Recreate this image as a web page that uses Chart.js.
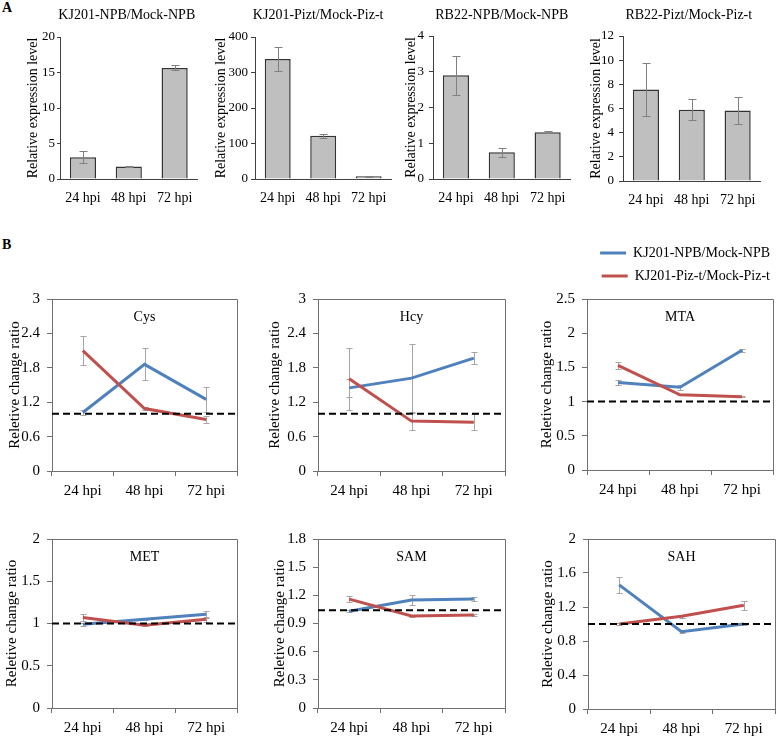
<!DOCTYPE html>
<html>
<head>
<meta charset="utf-8">
<script src="https://cdn.jsdelivr.net/npm/chart.js@4.4.1/dist/chart.umd.min.js"></script>
<style>
  body { margin: 0; background: #fff; }
  #page { position: relative; width: 777px; height: 737px; overflow: hidden; background: #fff; }
  #page canvas { position: absolute; }
  .tag { position: absolute; font: bold 14px "Liberation Serif", serif; color: #000; }
</style>
</head>
<body>
<div id="page">
  <div class="tag" style="left:2px; top:0px">A</div>
  <div class="tag" style="left:2px; top:237px">B</div>
</div>
<script>
const hpi = ['24 hpi', '48 hpi', '72 hpi'];
const seriesNames = ['KJ201-NPB/Mock-NPB', 'KJ201-Piz-t/Mock-Piz-t'];

// A: relative expression (bars) and their error bars
const kjNpbExpr = [3.05, 1.77, 15.65];
const kjNpbErr = [0.85, 0.1, 0.35];
const kjPiztExpr = [338, 122, 7.5];
const kjPiztErr = [34, 6, 1];
const rbNpbExpr = [2.9, 0.75, 1.31];
const rbNpbErr = [0.55, 0.13, 0.02];
const rbPiztExpr = [7.58, 5.89, 5.84];
const rbPiztErr = [2.2, 0.87, 1.13];

// B: relative change ratio, NPB (blue) and Piz-t (red)
const cysNpb = [1.02, 1.86, 1.25];
const cysNpbErr = [0.05, 0.28, 0.22];
const cysPizt = [2.10, 1.09, 0.90];
const cysPiztErr = [0.25, 0.02, 0.06];

const hcyNpb = [1.45, 1.62, 1.97];
const hcyNpbErr = [0.16, 0.59, 0.1];
const hcyPizt = [1.61, 0.87, 0.85];
const hcyPiztErr = [0.54, 0.15, 0.14];

const mtaNpb = [1.28, 1.21, 1.75];
const mtaNpbErr = [0.03, 0.04, 0.02];
const mtaPizt = [1.53, 1.10, 1.07];
const mtaPiztErr = [0.05, 0.01, 0.01];

const metNpb = [0.99, 1.05, 1.11];
const metNpbErr = [0.02, 0.01, 0.04];
const metPizt = [1.07, 0.98, 1.05];
const metPiztErr = [0.04, 0.01, 0.03];

const samNpb = [1.03, 1.15, 1.16];
const samNpbErr = [0.01, 0.05, 0.02];
const samPizt = [1.16, 0.98, 0.99];
const samPiztErr = [0.03, 0.01, 0.01];

const sahNpb = [1.46, 0.91, 1.0];
const sahNpbErr = [0.09, 0.02, 0.01];
const sahPizt = [1.0, 1.09, 1.22];
const sahPiztErr = [0.01, 0.02, 0.05];

// dashed reference level per metabolite
const refLevels = [1, 1, 1, 1, 1.04, 1];

const SERIF = '"Liberation Serif", "Times New Roman", serif';
const blue = '#4f81bd';
const red = '#c0504d';
const axisColor = '#404040';
const frameColor = '#707070';

Chart.defaults.font.family = SERIF;
Chart.defaults.color = '#000';
Chart.defaults.animation = false;
Chart.defaults.responsive = false;

// error bars, drawn from the data values through the y scale
function drawErrors(chart, opts) {
  if (!opts.errors) return;
  const ctx = chart.ctx;
  const y = chart.scales.y;
  ctx.save();
  ctx.strokeStyle = opts.color;
  ctx.lineWidth = 1;
  chart.data.datasets.forEach((ds, i) => {
    const errs = opts.errors[i];
    if (!errs) return;
    chart.getDatasetMeta(i).data.forEach((el, j) => {
      const v = ds.data[j];
      const x = Math.round(el.x) + 0.5;
      const top = Math.round(y.getPixelForValue(v + errs[j])) + 0.5;
      const bot = Math.round(y.getPixelForValue(v - errs[j])) + 0.5;
      ctx.beginPath();
      ctx.moveTo(x, top); ctx.lineTo(x, bot);
      ctx.moveTo(x - opts.cap, top); ctx.lineTo(x + opts.cap, top);
      ctx.moveTo(x - opts.cap, bot); ctx.lineTo(x + opts.cap, bot);
      ctx.stroke();
    });
  });
  ctx.restore();
}

Chart.register({
  id: 'errorBars',
  beforeDatasetsDraw(chart, args, opts) { if (opts.behind) drawErrors(chart, opts); },
  afterDatasetsDraw(chart, args, opts) { if (!opts.behind) drawErrors(chart, opts); }
});

// frame on top/right, dashed reference line, caption text
Chart.register({
  id: 'decor',
  beforeDatasetsDraw(chart, args, opts) {
    if (!opts.frame) return;
    const {ctx, chartArea: a} = chart;
    const top = Math.round(a.top - 0.5) + 0.5;
    const right = Math.round(a.right - 0.5) + 0.5;
    ctx.save();
    ctx.strokeStyle = opts.frame;
    ctx.lineWidth = 1;
    ctx.beginPath();
    ctx.moveTo(a.left, top); ctx.lineTo(right, top); ctx.lineTo(right, a.bottom);
    ctx.stroke();
    ctx.restore();
  },
  afterDatasetsDraw(chart, args, opts) {
    const {ctx, chartArea: a} = chart;
    ctx.save();
    if (opts.refValue !== undefined) {
      const y = chart.scales.y.getPixelForValue(opts.refValue);
      ctx.strokeStyle = '#000';
      ctx.lineWidth = 2;
      ctx.setLineDash([7, 4]);
      ctx.beginPath();
      ctx.moveTo(a.left, y); ctx.lineTo(a.right, y);
      ctx.stroke();
      ctx.setLineDash([]);
    }
    if (opts.caption) {
      ctx.font = opts.captionSize + 'px ' + SERIF;
      ctx.fillStyle = '#000';
      ctx.textAlign = 'center';
      ctx.textBaseline = 'middle';
      ctx.fillText(opts.caption, (a.left + a.right) / 2 + (opts.captionDx || 0), a.top + opts.captionY);
    }
    ctx.restore();
  }
});

const page = document.getElementById('page');

function addCanvas(area, pad) {
  const c = document.createElement('canvas');
  const w = pad.W + area[2] - area[0] + pad.R;
  const h = pad.T + area[3] - area[1] + pad.H;
  c.width = w;
  c.height = h;
  c.style.left = (area[0] - pad.W) + 'px';
  c.style.top = (area[1] - pad.T) + 'px';
  page.appendChild(c);
  return c;
}

// ---- A: bar panels
const barPanels = [
  {title: 'KJ201-NPB/Mock-NPB', values: kjNpbExpr, errors: kjNpbErr, max: 20, step: 5, area: [60, 37, 200, 179], titleX: -27, dx: -2, tick: 3, tickPad: 2},
  {title: 'KJ201-Pizt/Mock-Piz-t', values: kjPiztExpr, errors: kjPiztErr, max: 400, step: 100, area: [255, 37, 394, 179], titleX: -34, dx: -5, tick: 4, tickPad: 3},
  {title: 'RB22-NPB/Mock-NPB', values: rbNpbExpr, errors: rbNpbErr, max: 4, step: 1, area: [433, 36, 573, 179], titleX: -22, dx: 0, tick: 4, tickPad: 5},
  {title: 'RB22-Pizt/Mock-Piz-t', values: rbPiztExpr, errors: rbPiztErr, max: 12, step: 2, area: [623, 36, 763, 181], titleX: -27, dx: -3, tick: 4, tickPad: 5}
];

barPanels.forEach(p => {
  const pad = {W: 60, T: p.area[1], R: 4, H: 30};
  const canvas = addCanvas(p.area, pad);
  new Chart(canvas, {
    type: 'bar',
    data: {
      labels: hpi,
      datasets: [{
        data: p.values,
        backgroundColor: '#bfbfbf',
        borderColor: '#333333',
        borderWidth: 1.5,
        barPercentage: 0.57,
        categoryPercentage: 1
      }]
    },
    options: {
      layout: {padding: {top: pad.T, right: pad.R, left: 0, bottom: 0}},
      plugins: {
        legend: {display: false},
        tooltip: {enabled: false},
        errorBars: {errors: [p.errors], cap: 4, color: '#808080'},
        decor: {caption: p.title, captionY: 15 - pad.T, captionSize: 14, captionDx: p.dx}
      },
      scales: {
        x: {
          grid: {display: false, drawTicks: false},
          border: {color: axisColor},
          ticks: {padding: 11, font: {size: 14}},
          afterFit: s => { s.height = pad.H; }
        },
        y: {
          min: 0,
          max: p.max,
          ticks: {stepSize: p.step, padding: p.tickPad, font: {size: 13}},
          grid: {drawOnChartArea: false, tickLength: p.tick, color: axisColor},
          border: {color: axisColor},
          title: {display: true, text: 'Relative expression level', font: {size: 14},
                  padding: {top: pad.W + p.titleX - 8.4, bottom: 0}},
          afterFit: s => { s.width = pad.W; }
        }
      }
    }
  });
});

// ---- B: line panels
const linePanels = [
  {name: 'Cys', npb: cysNpb, npbErr: cysNpbErr, pizt: cysPizt, piztErr: cysPiztErr, max: 3, step: 0.6, area: [52, 299, 237, 471], titleX: -37},
  {name: 'Hcy', npb: hcyNpb, npbErr: hcyNpbErr, pizt: hcyPizt, piztErr: hcyPiztErr, max: 3, step: 0.6, area: [318, 299, 505, 471], titleX: -43},
  {name: 'MTA', npb: mtaNpb, npbErr: mtaNpbErr, pizt: mtaPizt, piztErr: mtaPiztErr, max: 2.5, step: 0.5, area: [587, 299, 773, 470], titleX: -40, legend: true},
  {name: 'MET', npb: metNpb, npbErr: metNpbErr, pizt: metPizt, piztErr: metPiztErr, max: 2, step: 0.5, area: [52, 539, 237, 708], titleX: -40},
  {name: 'SAM', npb: samNpb, npbErr: samNpbErr, pizt: samPizt, piztErr: samPiztErr, max: 1.8, step: 0.3, area: [318, 539, 505, 708], titleX: -38},
  {name: 'SAH', npb: sahNpb, npbErr: sahNpbErr, pizt: sahPizt, piztErr: sahPiztErr, max: 2, step: 0.4, area: [588, 539, 775, 709], titleX: -40}
];

linePanels.forEach((p, k) => {
  // the legend panel keeps room above for the legend, and a thin right axis instead of padding
  const pad = p.legend ? {W: 60, T: 64, R: 6, H: 32} : {W: 60, T: 25, R: 4, H: 32};
  const canvas = addCanvas(p.area, pad);
  const scales = {
    x: {
      offset: true,
      grid: {offset: true, drawOnChartArea: false, tickLength: 5, color: frameColor},
      border: {color: frameColor},
      ticks: {padding: 6, font: {size: 15}},
      afterFit: s => { s.height = pad.H; }
    },
    y: {
      min: 0,
      max: p.max,
      ticks: {stepSize: p.step, padding: 7, font: {size: 15},
              format: {minimumFractionDigits: 0, maximumFractionDigits: 1}},
      grid: {drawOnChartArea: false, tickLength: 5, color: frameColor},
      border: {color: frameColor},
      title: {display: true, text: 'Reletive change ratio', font: {size: 15},
              padding: {top: pad.W + p.titleX - 9, bottom: 0}},
      afterFit: s => { s.width = pad.W; }
    }
  };
  if (p.legend) {
    scales.yR = {
      type: 'linear', position: 'right', display: true,
      grid: {display: false, drawTicks: false},
      border: {display: false},
      ticks: {display: false},
      afterFit: s => { s.width = pad.R; }
    };
  }
  new Chart(canvas, {
    type: 'line',
    data: {
      labels: hpi,
      datasets: [
        {label: seriesNames[0], data: p.npb, borderColor: blue, backgroundColor: blue,
         borderWidth: 3, pointRadius: 0, order: 1},
        {label: seriesNames[1], data: p.pizt, borderColor: red, backgroundColor: red,
         borderWidth: 3, pointRadius: 0, order: 0}
      ]
    },
    options: {
      layout: {padding: p.legend ? {top: 2, right: 0, left: 0, bottom: 0}
                                 : {top: pad.T, right: pad.R, left: 0, bottom: 0}},
      plugins: {
        legend: {
          display: !!p.legend,
          position: 'top',
          align: 'end',
          labels: {
            font: {size: 14}, color: '#000', padding: 9,
            usePointStyle: true, pointStyle: 'line', pointStyleWidth: 26,
            sort: (a, b) => a.datasetIndex - b.datasetIndex
          }
        },
        subtitle: {display: !!p.legend, text: '', weight: 500, padding: 0, font: {size: 5}},
        tooltip: {enabled: false},
        errorBars: {errors: [p.npbErr, p.piztErr], cap: 3, color: '#a6a6a6', behind: true},
        decor: {frame: frameColor, refValue: refLevels[k], caption: p.name, captionY: 18, captionSize: 14}
      },
      scales: scales
    }
  });
});
</script>
</body>
</html>
